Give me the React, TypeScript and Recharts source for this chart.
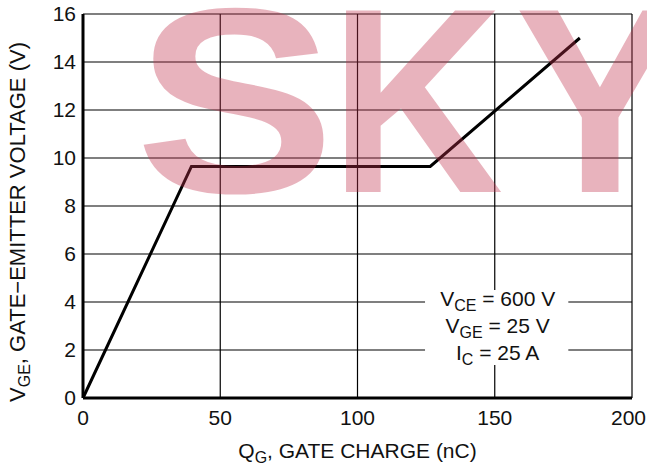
import React from "react";
import {
  LineChart,
  Line,
  XAxis,
  YAxis,
  CartesianGrid,
  ReferenceArea,
} from "recharts";

const gateCharge = [0, 39.5, 126.5, 181];
const gateVoltage = [0, 9.65, 9.65, 15];
const xTicks = [0, 50, 100, 150, 200];
const yTicks = [0, 2, 4, 6, 8, 10, 12, 14, 16];
const conditions = [
  { main: "V", sub: "CE", rest: " = 600 V" },
  { main: "V", sub: "GE", rest: " = 25 V" },
  { main: "I", sub: "C", rest: " = 25 A" },
];
const watermarkLetters = ["S", "K", "Y"];

const data = gateCharge.map((q, i) => ({ q, v: gateVoltage[i] }));

const FONT = "'Liberation Sans', Arial, sans-serif";
const FS = 21;
const SUB = 16;
const W = 647;

const XTick = (props: any) => {
  const { x, y, payload } = props;
  const last = payload.value === xTicks[xTicks.length - 1];
  return (
    <text
      x={last ? W - 1 : x}
      y={y + 4}
      dy="0.71em"
      textAnchor={last ? "end" : "middle"}
      fontFamily={FONT}
      fontSize={FS}
      fill="#111"
    >
      {payload.value}
    </text>
  );
};

const XTitle = (props: any) => {
  const vb = props.viewBox;
  const cx = vb.x + vb.width / 2;
  const y = vb.y + 60;
  return (
    <text x={cx} y={y} textAnchor="middle" fontFamily={FONT} fontSize={FS} fill="#111">
      Q
      <tspan fontSize={SUB} dy={5}>G</tspan>
      <tspan dy={-5}>, GATE CHARGE (nC)</tspan>
    </text>
  );
};

const YTitle = () => {
  const cy = 222;
  const x = 25;
  return (
    <text
      x={x}
      y={cy}
      textAnchor="middle"
      fontFamily={FONT}
      fontSize={22}
      fill="#111"
      transform={`rotate(-90 ${x} ${cy})`}
    >
      V
      <tspan fontSize={SUB} dy={5}>GE</tspan>
      <tspan dy={-5}>, GATE−EMITTER VOLTAGE (V)</tspan>
    </text>
  );
};

const CondLabel = (props: any) => {
  const vb = props.viewBox;
  const cx = vb.x + vb.width / 2 + 1;
  const top = vb.y;
  return (
    <g>
      {conditions.map((c, i) => (
        <text
          key={i}
          x={cx}
          y={top + 16 + i * 27}
          textAnchor="middle"
          fontFamily={FONT}
          fontSize={FS}
          fill="#111"
        >
          {c.main}
          <tspan fontSize={SUB} dy={5}>{c.sub}</tspan>
          <tspan dy={-5}>{c.rest}</tspan>
        </text>
      ))}
    </g>
  );
};

const letterX = [135, 330, 515];
const letterScale = [1, 0.8, 0.85];

export default function App() {
  return (
    <div style={{ position: "absolute", left: 0, top: 0, width: W, height: 468, background: "#fff", overflow: "hidden" }}>
      <LineChart
        width={W}
        height={468}
        data={data}
        margin={{ top: 14, right: 15, bottom: 40, left: 0 }}
      >
        <CartesianGrid stroke="#000" strokeWidth={1.2} />
        <XAxis
          dataKey="q"
          type="number"
          domain={[0, 200]}
          ticks={xTicks}
          tickLine={false}
          axisLine={{ stroke: "#000", strokeWidth: 3 }}
          tick={<XTick />}
          label={<XTitle />}
        />
        <YAxis
          type="number"
          domain={[0, 16]}
          ticks={yTicks}
          width={83}
          tickLine={false}
          tickMargin={1}
          axisLine={{ stroke: "#000", strokeWidth: 3 }}
          tick={{ fontFamily: FONT, fontSize: FS, fill: "#111" }}
          label={<YTitle />}
        />
        <ReferenceArea
          x1={124.6}
          x2={176.8}
          y1={1.375}
          y2={4.5}
          fill="#fff"
          fillOpacity={1}
          stroke="none"
          ifOverflow="visible"
          label={<CondLabel />}
        />
        <Line
          type="linear"
          dataKey="v"
          stroke="#000"
          strokeWidth={3}
          dot={false}
          isAnimationActive={false}
        />
      </LineChart>
      <svg
        width={W}
        height={468}
        style={{ position: "absolute", left: 0, top: 0, pointerEvents: "none" }}
      >
        {watermarkLetters.map((l, i) => (
          <g key={i} transform={`translate(${letterX[i]},192) scale(${letterScale[i]},0.88)`}>
            <text
              x={0}
              y={0}
              fontFamily={FONT}
              fontWeight="bold"
              fontSize={300}
              fill="rgb(192,49,77)"
              fillOpacity={0.37}
            >
              {l}
            </text>
          </g>
        ))}
      </svg>
    </div>
  );
}
